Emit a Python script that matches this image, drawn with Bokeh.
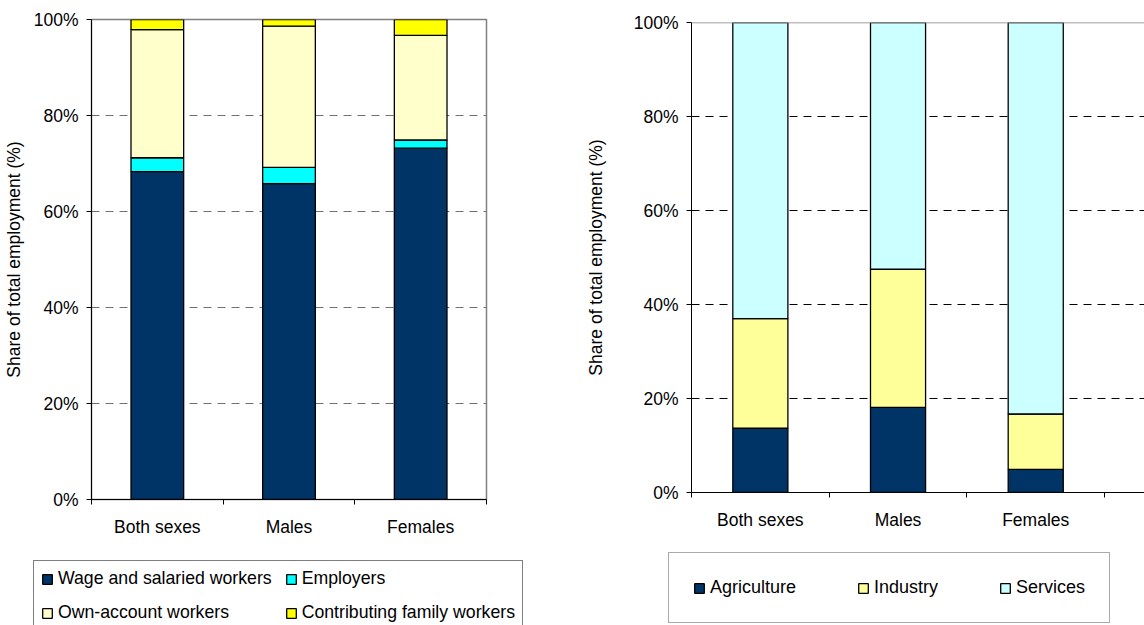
from bokeh.plotting import figure
from bokeh.layouts import row, column
from bokeh.models import (ColumnDataSource, Range1d, FixedTicker, PrintfTickFormatter,
                          Legend, LegendItem, Span)
from bokeh.embed import file_html
from bokeh.resources import INLINE

FONT = "Liberation Sans"

groups = ["Both sexes", "Males", "Females"]

# Employment by status in employment (% of total employment)
status_names = ["Wage and salaried workers", "Employers",
                "Own-account workers", "Contributing family workers"]
status_keys = ["wage", "employers", "own", "contrib"]
wage = [68.3, 65.8, 73.2]
employers = [2.9, 3.4, 1.7]
own_account = [26.7, 29.4, 21.8]
contributing = [2.1, 1.4, 3.3]
status_colors = ["#003366", "#00FFFF", "#FFFFCC", "#FFFF00"]

# Employment by sector (% of total employment)
sector_names = ["Agriculture", "Industry", "Services"]
sector_keys = ["agr", "ind", "ser"]
agriculture = [13.7, 18.1, 4.9]
industry = [23.3, 29.4, 11.8]
services = [63.0, 52.5, 83.3]
sector_colors = ["#003366", "#FFFF99", "#CCFFFF"]

y_ticks = [0, 20, 40, 60, 80, 100]
x_pos = [i + 0.5 for i in range(len(groups))]

CHART_H = 549
LEGEND_H = 625 - CHART_H


def make_fig(width, border_left, border_right, border_top, border_bottom, x_end,
             label_standoff, grid_color):
    p = figure(width=width, height=CHART_H, title=None,
               x_range=Range1d(0, x_end), y_range=Range1d(0, 100),
               output_backend="svg", toolbar_location=None, frame_align=False,
               min_border_left=border_left, min_border_right=border_right,
               min_border_top=border_top, min_border_bottom=border_bottom)
    p.background_fill_color = "white"
    p.border_fill_color = "white"

    # value axis
    ya = p.yaxis[0]
    ya.ticker = FixedTicker(ticks=y_ticks)
    ya.formatter = PrintfTickFormatter(format="%d%%")
    ya.minor_tick_line_color = None
    ya.major_tick_in = 0
    ya.major_tick_out = 5
    ya.major_label_standoff = 8
    ya.axis_line_color = "black"
    ya.major_tick_line_color = "black"
    ya.major_label_text_font = FONT
    ya.major_label_text_font_size = "17.5px"
    ya.major_label_text_color = "black"
    ya.axis_label = "Share of total employment (%)"
    ya.axis_label_text_font = FONT
    ya.axis_label_text_font_size = "17.5px"
    ya.axis_label_text_font_style = "normal"
    ya.axis_label_text_color = "black"
    ya.axis_label_standoff = label_standoff

    # category axis: labels at the centres, tick marks on the boundaries
    xa = p.xaxis[0]
    xa.ticker = FixedTicker(ticks=x_pos, minor_ticks=list(range(len(groups) + 1)))
    xa.major_label_overrides = {x: g for x, g in zip(x_pos, groups)}
    xa.major_tick_in = 0
    xa.major_tick_out = 0
    xa.minor_tick_in = 0
    xa.minor_tick_out = 5
    xa.minor_tick_line_color = "black"
    xa.axis_line_color = "black"
    xa.major_label_standoff = 12
    xa.major_label_text_font = FONT
    xa.major_label_text_font_size = "17.5px"
    xa.major_label_text_color = "black"

    p.xgrid.visible = False
    p.ygrid.ticker = FixedTicker(ticks=[20, 40, 60, 80])
    p.ygrid.grid_line_color = grid_color
    p.ygrid.grid_line_dash = "8 6"
    p.ygrid.grid_line_width = 1
    return p


def legend_panel(width, border_right, source, keys, names, colors, location, **style):
    """A strip below a chart holding its legend box."""
    f = figure(width=width, height=LEGEND_H, title=None,
               x_range=Range1d(0, 1), y_range=Range1d(0, 1),
               x_axis_location=None, y_axis_location=None,
               output_backend="svg", toolbar_location=None,
               frame_align=False, min_border=0, min_border_right=border_right)
    f.outline_line_color = None
    f.grid.visible = False
    f.background_fill_color = "white"
    f.border_fill_color = "white"
    # hidden series renderers: only their legend swatches are shown
    swatches = [f.vbar(x="x", top=k, width=0.4, source=source, fill_color=c,
                       line_color="black", line_width=1.3, visible=False)
                for k, c in zip(keys, colors)]
    leg = Legend(
        items=[LegendItem(label=n, renderers=[r]) for n, r in zip(names, swatches)],
        orientation="horizontal", location=location, click_policy="none",
        glyph_width=12, glyph_height=12, label_standoff=5, label_height=20,
        margin=0, label_text_font=FONT, label_text_color="black",
        border_line_width=1, inactive_fill_alpha=0,
        background_fill_color="white", background_fill_alpha=1, **style)
    f.add_layout(leg)
    return f


# ---- left panel: status in employment ----
left = make_fig(580, 91, 94, 19, CHART_H - 499, 3, 7, "#707070")
left.outline_line_color = "#808080"
left.outline_line_width = 1.5

src_status = ColumnDataSource(dict(x=x_pos, wage=wage, employers=employers,
                                   own=own_account, contrib=contributing))
left.vbar_stack(status_keys, x="x", width=0.4, source=src_status,
                fill_color=status_colors, line_color="black", line_width=1.3)

left_leg = legend_panel(580, 0, src_status, status_keys, status_names, status_colors,
                        (33, -6), ncols=2, spacing=13, padding=7,
                        label_text_font_size="17.7px", border_line_color="black")

# ---- right panel: sector ----
right = make_fig(564, 111, 0, 22, CHART_H - 492, 3.29, 25, "black")
right.outline_line_color = None
right.add_layout(Span(location=100, dimension="width", line_color="#808080",
                      line_width=1.5))

src_sector = ColumnDataSource(dict(x=x_pos, agr=agriculture, ind=industry, ser=services))
right.vbar_stack(sector_keys, x="x", width=0.4, source=src_sector,
                 fill_color=sector_colors, line_color="black", line_width=1.3)

# the legend box runs on past the right edge of the strip
right_leg = legend_panel(564, 9, src_sector, sector_keys, sector_names, sector_colors,
                         (88, 2), spacing=61, padding=24,
                         label_text_font_size="18px", border_line_color="#555555")

layout = row(column(left, left_leg), column(right, right_leg))
open("out.html", "w").write(file_html(layout, INLINE))
